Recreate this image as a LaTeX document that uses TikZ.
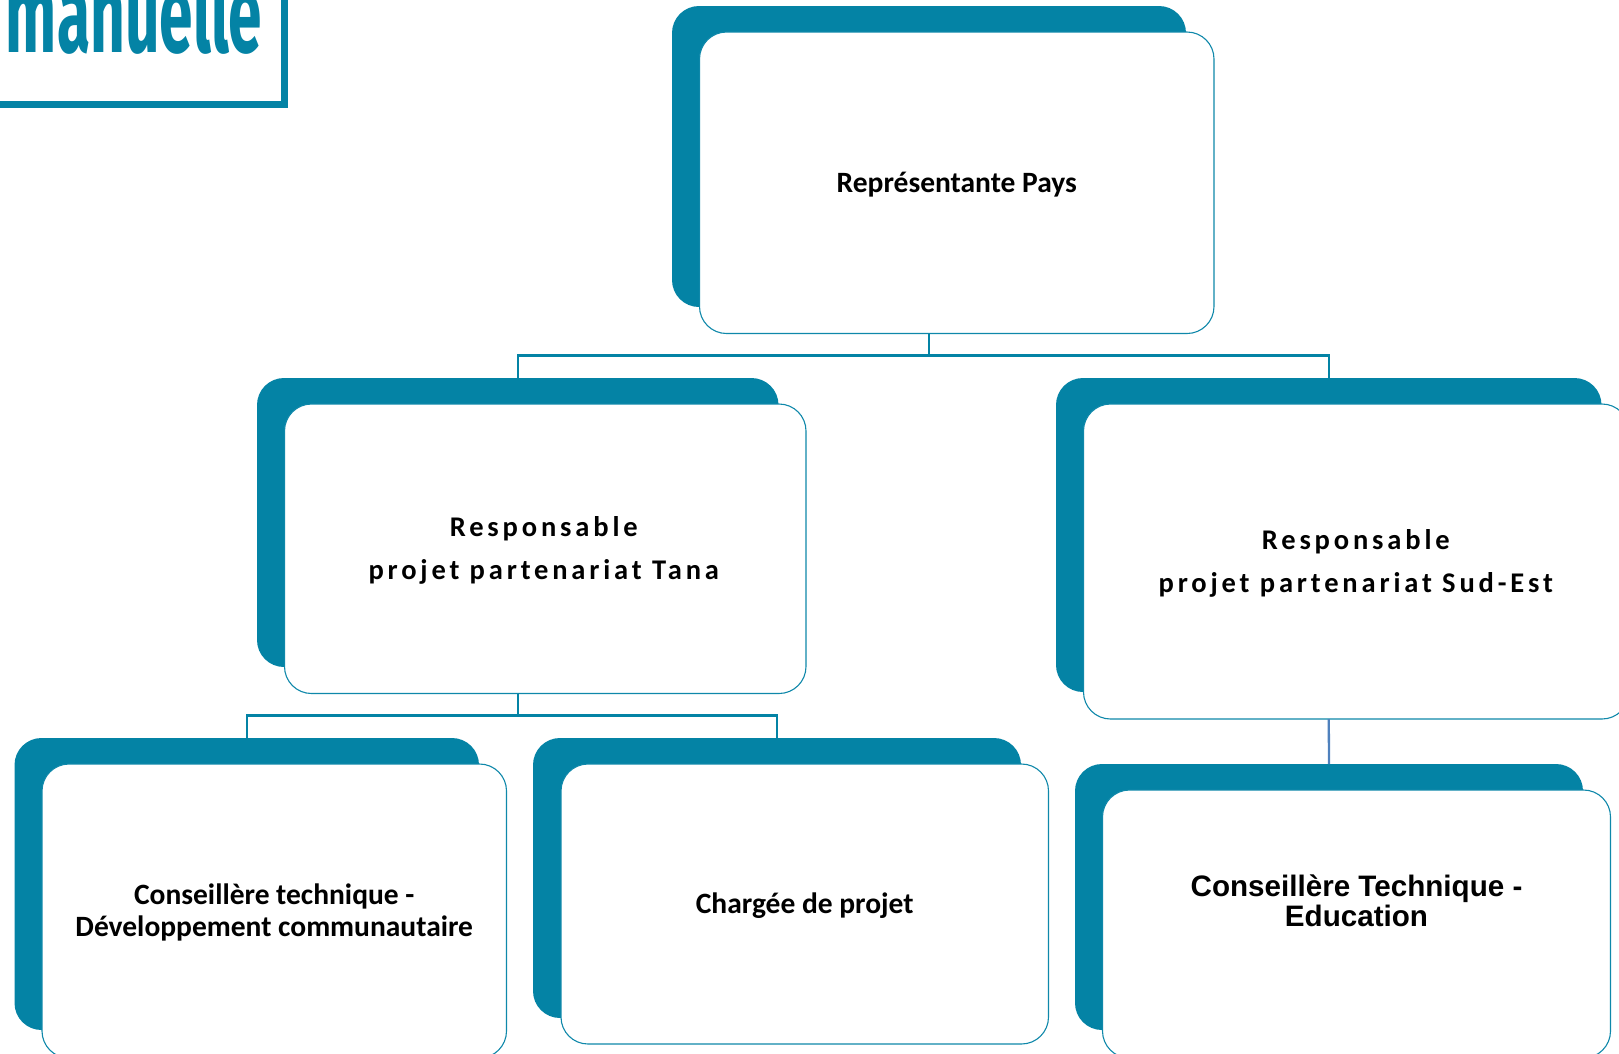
\documentclass[tikz,border=0pt]{standalone}
\usepackage{fontspec}
\setmainfont{Carlito}
\newfontfamily\arialf{Liberation Sans}
\newfontfamily\logof{Fira Sans}
\definecolor{teal}{HTML}{0483A5}
\definecolor{edge}{HTML}{0F88AA}
\definecolor{bluelink}{HTML}{4F81BD}
\tikzset{
 backbox/.style={fill=teal,draw=none,rounded corners=27pt,inner sep=0pt,outer sep=0pt},
 frontbox/.style={fill=white,draw=edge,line width=1.1pt,rounded corners=27pt,inner sep=0pt,outer sep=0pt,align=center},
 plainlabel/.style={font=\bfseries\fontsize{29.5}{32}\selectfont,align=center,inner sep=0pt},
 spaced/.style={font=\bfseries\fontsize{28.5}{43}\selectfont\addfontfeature{LetterSpace=13.5},align=center,inner sep=0pt},
 link/.style={draw=teal,line width=2.3pt},
}
% name; back left, top, right, bottom; front left, top, right, bottom
\newcommand{\twobox}[9]{%
 \node[backbox,minimum width=#4pt-#2pt,minimum height=#5pt-#3pt] (d#1) at ({(#2+#4)/2},{(#3+#5)/2}) {};
 \node[frontbox,minimum width=#8pt-#6pt,minimum height=#9pt-#7pt] (w#1) at ({(#6+#8)/2},{(#7+#9)/2}) {};
}
\begin{document}
\begin{tikzpicture}[x=1pt,y=-1pt]
\useasboundingbox (0,0) rectangle (1619,1053);
\clip (0,0) rectangle (1619,1053);
% logo
\coordinate (lg1) at (-5,104.5);
\coordinate (lg2) at (284,104.5);
\coordinate (lg3) at (284,-5);
\draw[teal,line width=7pt,miter limit=10] (lg1) -- (lg2) -- (lg3);
\node[anchor=base,inner sep=0pt,text=teal] (logo) at (134,52) {\scalebox{0.84}[1.55]{\logof\bfseries\fontsize{72}{72}\selectfont manuelle}};
% boxes
\twobox{1}{672}{6}{1186}{307}{699.5}{32}{1214}{333.5}
\twobox{2}{257}{378}{778.5}{667}{284.5}{404}{806}{693.5}
\twobox{3}{1056}{378}{1601.5}{692}{1083.5}{404}{1629}{719}
\twobox{4}{14.5}{738}{479}{1030}{42}{764}{506.5}{1058}
\twobox{5}{533}{738}{1021}{1018}{561}{764}{1048.5}{1044}
\twobox{6}{1075}{764}{1583}{1030}{1102.5}{790}{1610.5}{1058}
% texts
\node[plainlabel] (t1) at ([yshift=-2pt]w1.center) {Représentante Pays};
\node[spaced] (t2) at ([xshift=-1.5pt,yshift=-2pt]w2.center) {Responsable\\projet partenariat Tana};
\node[spaced] (t3) at ([xshift=-0.5pt,yshift=-2pt]w3.center) {Responsable\\projet partenariat Sud-Est};
\node[plainlabel] (t4) at ([yshift=-1pt]w4.center) {Conseillère technique -\\Développement communautaire};
\node[plainlabel] (t5) at ([yshift=-2pt]w5.center) {Chargée de projet};
\node[font=\arialf\bfseries\fontsize{29.6}{30}\selectfont,align=center,inner sep=0pt] (t6) at (1356.5,901) {Conseillère Technique -\\Education};
% connectors
\draw[link] (d1 |- w1.south) -- ++(0,22) -| (d2.north);
\draw[link] (d1 |- w1.south) -- ++(0,22) -| (d3.north);
\draw[link] (d2 |- w2.south) -- ++(0,22) -| (d4.north);
\draw[link] (d2 |- w2.south) -- ++(0,22) -| (d5.north);
\draw[draw=bluelink,line width=2.3pt] (d3 |- w3.south) -- (d6.north);
\end{tikzpicture}
\end{document}
